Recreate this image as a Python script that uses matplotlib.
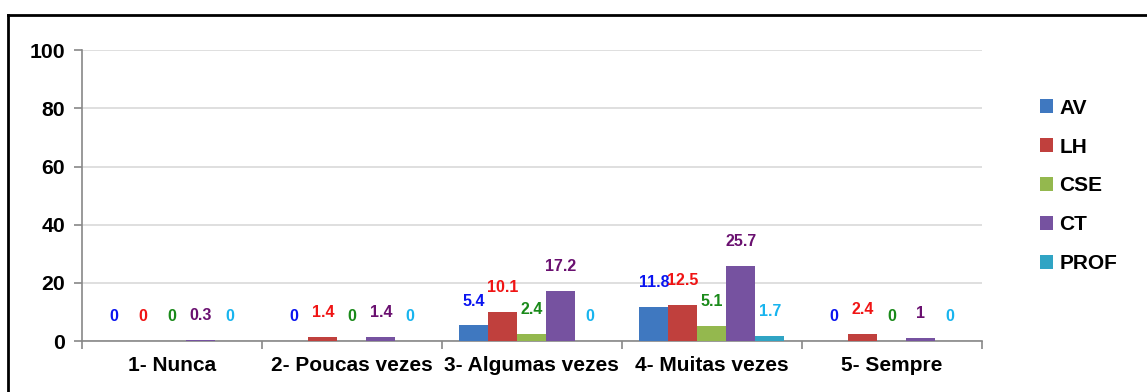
import matplotlib

matplotlib.use("Agg")
import matplotlib.pyplot as plt
import numpy as np
from matplotlib.lines import Line2D

plt.rcParams["font.family"] = ["Liberation Sans", "DejaVu Sans"]
plt.rcParams["font.weight"] = "bold"

categories = ["1- Nunca", "2- Poucas vezes", "3- Algumas vezes", "4- Muitas vezes", "5- Sempre"]
series_names = ["AV", "LH", "CSE", "CT", "PROF"]
av = [0, 0, 5.4, 11.8, 0]
lh = [0, 1.4, 10.1, 12.5, 2.4]
cse = [0, 0, 2.4, 5.1, 0]
ct = [0.3, 1.4, 17.2, 25.7, 1]
prof = [0, 0, 0, 1.7, 0]
y_ticks = [0, 20, 40, 60, 80, 100]

bar_colors = ["#3F78C0", "#C0403D", "#94B84E", "#7652A0", "#30A4C4"]
label_colors = ["#0A14F0", "#F01414", "#1A8A1A", "#6A1070", "#18B4EE"]

fig = plt.figure(figsize=(11.47, 3.92), dpi=100)
ax = fig.add_axes([0.0715, 0.130, 0.7845, 0.742])

x = np.arange(len(categories))
width = 0.161
all_series = [av, lh, cse, ct, prof]

for i, values in enumerate(all_series):
    offset = (i - 2) * width
    ax.bar(x + offset, values, width=width, color=bar_colors[i], label=series_names[i],
           zorder=3, linewidth=0)
    for xi, v in zip(x + offset, values):
        ax.annotate(f"{v:g}", (xi, v), xytext=(0, 17.5), textcoords="offset points",
                    ha="center", va="center", fontsize=11.5, fontweight="bold",
                    color=label_colors[i], zorder=4)

ax.set_xlim(-0.5, len(categories) - 0.5)
ax.set_ylim(0, 100)
ax.set_yticks(y_ticks)
ax.set_yticklabels([str(t) for t in y_ticks], fontsize=15.3, fontweight="bold")
ax.set_xticks(x)
ax.set_xticklabels(categories, fontsize=15, fontweight="bold")
ax.set_xticks(np.arange(len(categories) + 1) - 0.5, minor=True)
ax.tick_params(axis="x", which="major", length=0, pad=11)
ax.tick_params(axis="x", which="minor", length=6, color="#888888", width=1.2)
ax.tick_params(axis="y", length=6, color="#888888", width=1.2, pad=6)

ax.grid(axis="y", color="#D9D9D9", linewidth=1.2, zorder=0)
for side in ["top", "right"]:
    ax.spines[side].set_visible(False)
for side in ["left", "bottom"]:
    ax.spines[side].set_color("#888888")
    ax.spines[side].set_linewidth(1.2)

fig.legend(loc="center left", bbox_to_anchor=(0.890, 0.526), frameon=False,
           handlelength=0.65, handleheight=0.65, handletextpad=0.3,
           labelspacing=0.95, prop={"weight": "bold", "size": 15})

# outer frame: left and top edges
fig.add_artist(Line2D([8 / 1147, 8 / 1147], [0, 1 - 15 / 392], color="black",
                      linewidth=2, transform=fig.transFigure))
fig.add_artist(Line2D([8 / 1147, 1], [1 - 15 / 392, 1 - 15 / 392], color="black",
                      linewidth=2, transform=fig.transFigure))

fig.savefig("out.png", dpi=100)
